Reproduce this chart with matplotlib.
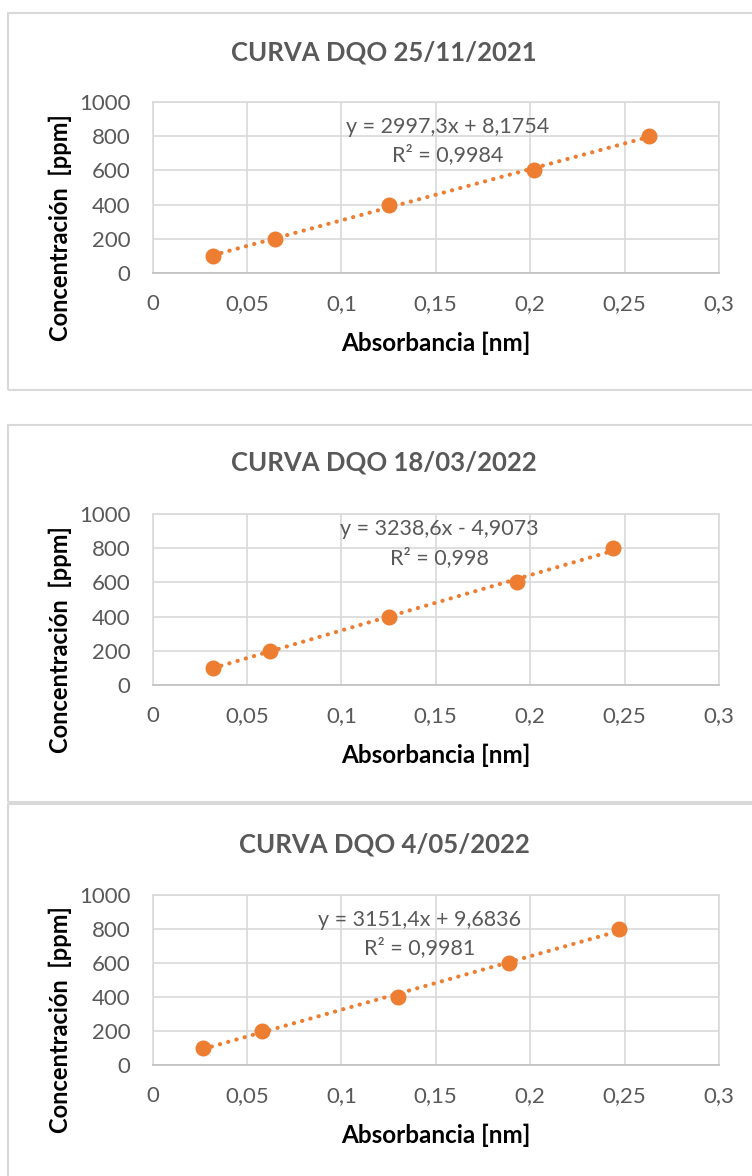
import numpy as np
import matplotlib
matplotlib.use("Agg")
import matplotlib.pyplot as plt
from matplotlib.patches import Rectangle

plt.rcParams['font.family'] = ['Lato', 'DejaVu Sans']

# data
titles = ["CURVA DQO 25/11/2021", "CURVA DQO 18/03/2022", "CURVA DQO 4/05/2022"]
conc = [100, 200, 400, 600, 800]
abs_1 = [0.032, 0.065, 0.125, 0.202, 0.263]
abs_2 = [0.032, 0.062, 0.125, 0.193, 0.244]
abs_3 = [0.027, 0.058, 0.130, 0.189, 0.247]
slopes = [2997.3, 3238.6, 3151.4]
intercepts = [8.1754, -4.9073, 9.6836]
eq_labels = ["y = 2997,3x + 8,1754", "y = 3238,6x - 4,9073", "y = 3151,4x + 9,6836"]
r2_labels = ["R² = 0,9984", "R² = 0,998", "R² = 0,9981"]
xticks = [0, 0.05, 0.1, 0.15, 0.2, 0.25, 0.3]
xtick_labels = ["0", "0,05", "0,1", "0,15", "0,2", "0,25", "0,3"]
yticks = [0, 200, 400, 600, 800, 1000]

W, H = 752, 1176
ORANGE = '#ED7D31'
GRID = '#d9d9d9'
TXT = '#595959'

fig = plt.figure(figsize=(W / 100, H / 100), dpi=100)

def fx(px):
    return px / W

def fy(py):
    return 1 - py / H

# layout in pixels (top origin): panel top/bottom, plot top/bottom, title y, xlabel y, ylabel y
panels = [
    dict(box=(13, 390), plot=(102, 273), title=52, xlab=343, ylab=228, eq=(0.1565, 854), r2=(0.1565, 690)),
    dict(box=(425, 802), plot=(514, 685), title=463, xlab=755, ylab=640, eq=(0.1517, 912), r2=(0.1517, 743)),
    dict(box=(804, 1190), plot=(895, 1065), title=845, xlab=1135, ylab=1020, eq=(0.1416, 853), r2=(0.1416, 688)),
]
absorb = [abs_1, abs_2, abs_3]

for i, p in enumerate(panels):
    # chart border
    top, bot = p['box']
    fig.patches.append(Rectangle((fx(8), fy(bot)), fx(760) - fx(8), fy(top) - fy(bot),
                                 transform=fig.transFigure, fill=False,
                                 edgecolor=GRID, linewidth=1.5))

    ptop, pbot = p['plot']
    ax = fig.add_axes([fx(152.5), fy(pbot), fx(719) - fx(152.5), fy(ptop) - fy(pbot)])
    x = np.array(absorb[i])
    ax.set_xlim(0, 0.3)
    ax.set_ylim(0, 1000)
    ax.set_xticks(xticks)
    ax.set_xticklabels(xtick_labels)
    ax.set_yticks(yticks)
    ax.grid(True, color=GRID, linewidth=1.2)
    ax.set_axisbelow(True)
    for side in ['top', 'right', 'left']:
        ax.spines[side].set_color(GRID)
        ax.spines[side].set_linewidth(1.2)
    ax.spines['bottom'].set_color('#bfbfbf')
    ax.spines['bottom'].set_linewidth(1.2)
    ax.tick_params(length=0, labelsize=16, labelcolor=TXT)
    ax.tick_params(axis='x', pad=15)
    ax.tick_params(axis='y', pad=16)

    # trendline
    xl = np.array([x[0], x[-1]])
    ax.plot(xl, slopes[i] * xl + intercepts[i], color=ORANGE, linewidth=3,
            linestyle=(0, (0.05, 2.0)), dash_capstyle='round', zorder=2)
    ax.plot(x, conc, 'o', color=ORANGE, markersize=10.5, zorder=3, clip_on=False)

    ax.text(p['eq'][0], p['eq'][1], eq_labels[i], ha='center', va='center',
            fontsize=15.5, color=TXT)
    ax.text(p['r2'][0], p['r2'][1], r2_labels[i], ha='center', va='center',
            fontsize=15.5, color=TXT)

    fig.text(fx(384), fy(p['title']), titles[i], ha='center', va='center',
             fontsize=18.5, fontweight='bold', color=TXT)
    fig.text(fx(435.5), fy(p['xlab']), "Absorbancia [nm]", ha='center', va='center',
             fontsize=17.5, fontweight='bold', color='black')
    fig.text(fx(60), fy(p['ylab']), "Concentración  [ppm]", ha='center', va='center',
             fontsize=17, fontweight='bold', color='black', rotation=90)

fig.savefig('out.png', dpi=100)
